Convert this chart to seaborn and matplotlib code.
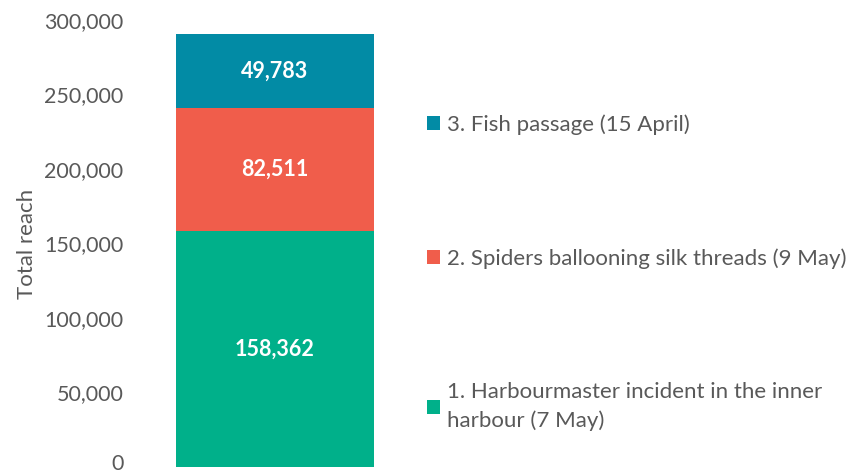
import matplotlib
matplotlib.use("Agg")
import matplotlib.pyplot as plt
import matplotlib.transforms as mtransforms
from matplotlib.ticker import FuncFormatter
import seaborn as sns

# data
events = [
    "1. Harbourmaster incident in the inner\nharbour (7 May)",
    "2. Spiders ballooning silk threads (9 May)",
    "3. Fish passage (15 April)",
]
reach = [158362, 82511, 49783]
colours = ["#00B08A", "#F05D4B", "#028BA5"]
category = ["Total"]

sns.set_theme(style="white")
plt.rcParams["font.family"] = ["Lato", "DejaVu Sans"]
text_grey = "#595959"

fig = plt.figure(figsize=(8.56, 4.74), dpi=100)
ax = fig.add_axes([140 / 856, 7 / 474, 270 / 856, 447 / 474])

bottom = 0
for name, value, col in zip(events, reach, colours):
    sns.barplot(x=category, y=[value], bottom=bottom, color=col, width=0.73,
                label=name, ax=ax, linewidth=0, saturation=1)
    bottom += value
if ax.get_legend() is not None:
    ax.get_legend().remove()

for cont, value in zip(ax.containers, reach):
    ax.bar_label(cont, labels=[f"{value:,}"], label_type="center",
                 color="white", fontsize=15.5, fontweight="bold")

ax.set_ylim(0, 300000)
ax.set_xlim(-0.5, 0.5)
ax.set_yticks(range(0, 300001, 50000))
ax.yaxis.set_major_formatter(FuncFormatter(lambda v, p: f"{int(v):,}"))
ax.tick_params(axis="y", length=0, labelsize=15.5, labelcolor=text_grey, pad=12)
ax.set_xticks([])
ax.set_xlabel("")
ax.set_ylabel("Total reach", fontsize=16, color=text_grey, labelpad=5)
for s in ax.spines.values():
    s.set_visible(False)

# nudge the "0" label up so it stays inside the figure
fig.canvas.draw()
zero = ax.get_yticklabels()[0]
zero.set_transform(zero.get_transform() + mtransforms.ScaledTranslation(0, 0.05, fig.dpi_scale_trans))

handles = ax.containers[::-1]
labels = events[::-1]
leg = fig.legend(handles, labels, loc="center left", bbox_to_anchor=(416 / 856, 0.425),
                 frameon=False, fontsize=16, labelcolor=text_grey, labelspacing=5.1,
                 handlelength=0.6, handleheight=0.6, handletextpad=0.3, borderpad=0)
for t in leg.get_texts():
    t.set_linespacing(1.5)

fig.savefig("out.png", dpi=100)
